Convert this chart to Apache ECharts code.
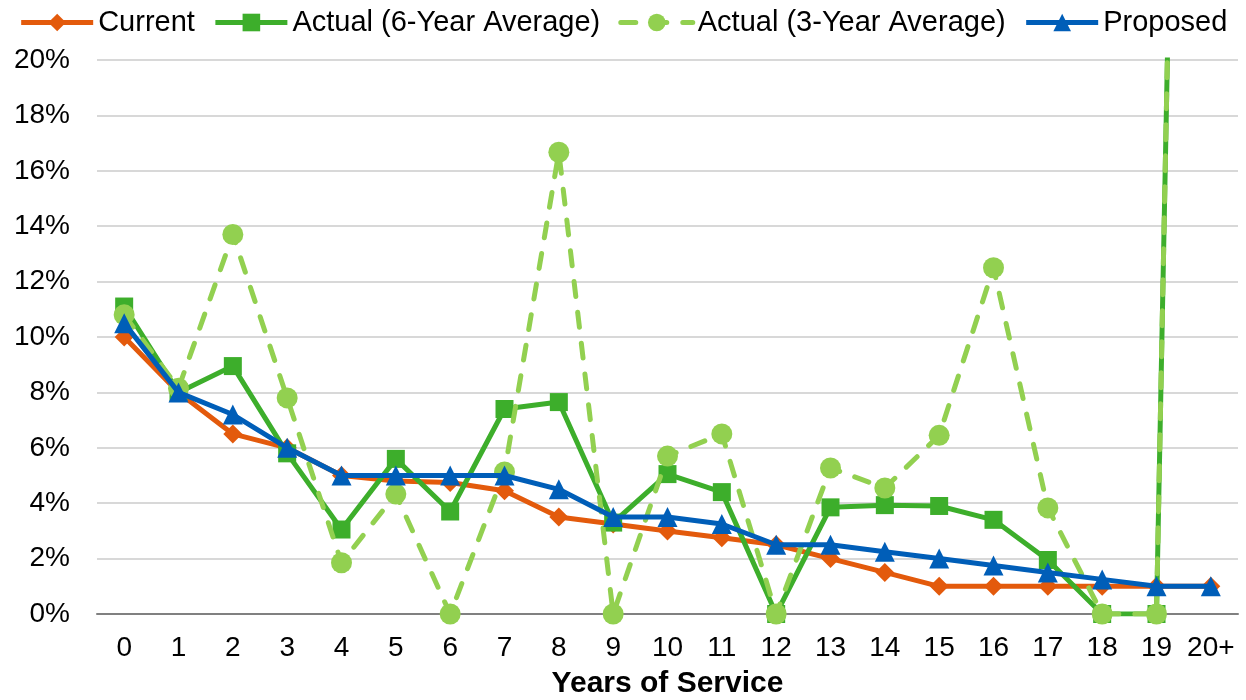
<!DOCTYPE html>
<html>
<head>
<meta charset="utf-8">
<script src="https://cdn.jsdelivr.net/npm/echarts@6/dist/echarts.min.js"></script>
<style>
  html, body { margin: 0; padding: 0; background: #fff; }
  #chart { width: 1246px; height: 700px; }
</style>
</head>
<body>
<div id="chart"></div>
<script>
// Years-of-service categories
const categories = ['0','1','2','3','4','5','6','7','8','9','10','11','12','13','14','15','16','17','18','19','20+'];

// Rates in percent
const current   = [10, 8, 6.5, 6, 5, 4.8, 4.75, 4.45, 3.5, 3.25, 3, 2.75, 2.5, 2, 1.5, 1, 1, 1, 1, 1, 1];
const actual6yr = [11.1, 8, 8.95, 5.8, 3.05, 5.6, 3.7, 7.4, 7.65, 3.3, 5.05, 4.4, 0, 3.85, 3.93, 3.9, 3.4, 1.95, 0, 0, 100];
const actual3yr = [10.8, 8.15, 13.7, 7.8, 1.85, 4.33, 0, 5.13, 16.67, 0, 5.7, 6.5, 0, 5.27, 4.55, 6.45, 12.5, 3.83, 0, 0, 100];
const proposed  = [10.5, 8, 7.2, 6, 5, 5, 5, 5, 4.5, 3.5, 3.5, 3.25, 2.5, 2.5, 2.25, 2, 1.75, 1.5, 1.25, 1, 1];

// Y-axis ticks
const yMin = 0, yMax = 20, yStep = 2;

const FONT = 'Liberation Sans, Arial, sans-serif';
const ORANGE = '#E35A0C';
const GREEN = '#3DAE2B';
const LIGHT_GREEN = '#92D050';
const BLUE = '#005EB8';
const LINE_W = 5;

const chart = echarts.init(document.getElementById('chart'), null, { renderer: 'canvas' });

function lineSeries(name, data, color, symbol, size, dashed, z) {
  return {
    name, type: 'line', data, z,
    symbol, symbolSize: size,
    clip: true,
    itemStyle: { color },
    lineStyle: { color, width: LINE_W, type: dashed ? [15, 16] : 'solid', cap: dashed ? 'round' : 'butt' },
    emphasis: { disabled: true },
    animation: false
  };
}

chart.setOption({
  animation: false,
  textStyle: { fontFamily: FONT },
  legend: {
    top: 3,
    left: 'center',
    itemWidth: 72,
    itemHeight: 22,
    itemGap: 18,
    lineStyle: { width: LINE_W },
    textStyle: { fontSize: 29, color: '#000', fontFamily: FONT },
    data: ['Current', 'Actual (6-Year Average)', 'Actual (3-Year Average)', 'Proposed']
  },
  grid: { left: 97, right: 8, top: 60, bottom: 86, containLabel: false, outerBoundsMode: 'none' },
  xAxis: {
    type: 'category',
    data: categories,
    boundaryGap: true,
    name: 'Years of Service',
    nameLocation: 'middle',
    nameGap: 55,
    nameTextStyle: { fontSize: 30, fontWeight: 'bold', color: '#000', fontFamily: FONT },
    axisLine: { lineStyle: { color: '#808080', width: 2 } },
    axisTick: { show: false },
    axisLabel: { fontSize: 28, color: '#000', margin: 20, fontFamily: FONT, interval: 0 }
  },
  yAxis: {
    type: 'value',
    min: yMin, max: yMax, interval: yStep,
    axisLine: { show: false },
    axisTick: { show: false },
    axisLabel: { fontSize: 28, color: '#000', margin: 27, formatter: '{value}%', fontFamily: FONT },
    splitLine: { lineStyle: { color: '#CBCBCB', width: 1.5 } }
  },
  series: [
    lineSeries('Current', current, ORANGE, 'diamond', 19, false, 2),
    lineSeries('Actual (6-Year Average)', actual6yr, GREEN, 'rect', 18, false, 3),
    lineSeries('Actual (3-Year Average)', actual3yr, LIGHT_GREEN, 'circle', 21, true, 4),
    lineSeries('Proposed', proposed, BLUE, 'triangle', 20, false, 5)
  ]
});
</script>
</body>
</html>
